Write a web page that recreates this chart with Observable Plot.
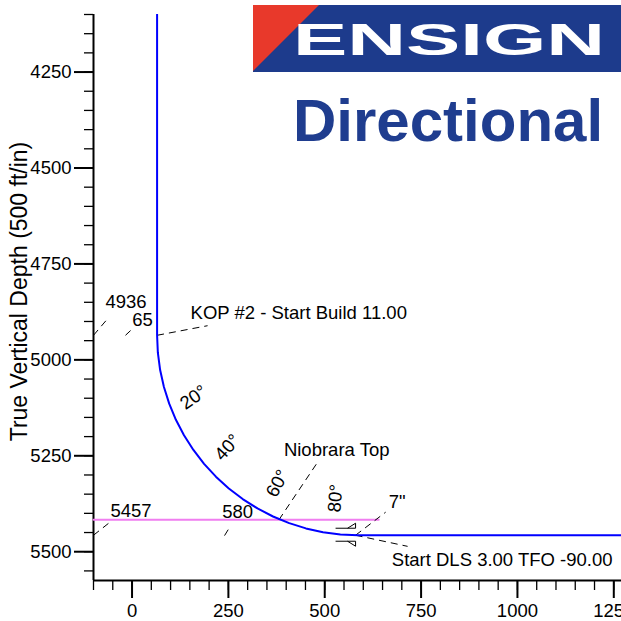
<!DOCTYPE html>
<html><head><meta charset="utf-8">
<script src="https://cdn.jsdelivr.net/npm/d3@7"></script>
<script src="https://cdn.jsdelivr.net/npm/@observablehq/plot@0.6"></script>
<style>body{margin:0;background:#fff}#chart{width:621px;height:621px;overflow:hidden}</style>
</head><body><div id="chart"></div>
<script>
// ---- scales / ticks ----
const xDomain = [-100, 1270];
const yDomain = [4100, 5575];
const xTicksMajor = [0, 250, 500, 750, 1000, 1250];
const yTicksMajor = [4250, 4500, 4750, 5000, 5250, 5500];
const xTicksMinor = d3.range(-100, 1271, 50);
const yTicksMinor = d3.range(4100, 5576, 50);
const yAxisLabel = "True Vertical Depth (500 ft/in)";

// ---- well path (vertical section, TVD) ----
const pathVS  = [65, 65, 66.98, 72.92, 82.75, 96.42, 113.81, 134.8, 159.22, 186.89, 217.6, 251.11, 287.16, 325.5, 365.82, 407.81, 451.15, 495.53, 540.59, 586, 1300];
const pathTVD = [4100, 4936, 4981.41, 5026.47, 5070.84, 5114.19, 5156.19, 5196.5, 5234.83, 5270.89, 5304.4, 5335.11, 5362.78, 5387.2, 5408.19, 5425.58, 5439.25, 5449.09, 5455.02, 5457, 5457];

// ---- formation top ----
const formationName = "Niobrara Top";
const formationTVD = 5417;
const formationVS = [-100, 640];

// ---- casing point ----
const casingVS = 580;
const casingTVD = 5457;

// ---- inclination labels ----
const incText = ["20°", "40°", "60°", "80°"];
const incVS   = [159.5, 247.7, 377.4, 527.9];
const incTVD  = [5098, 5228, 5322, 5361];
const incRot  = [-35, -48, -62, -85];

// ---- annotation labels ----
const labelText = ["4936", "65", "KOP #2 - Start Build 11.00", "5457", "580", formationName, "7\"", "Start DLS 3.00 TFO -90.00"];
const labelVS   = [-69, 0.4, 152, -56, 234, 394, 666, 674];
const labelTVD  = [4849, 4897, 4877, 5393, 5397, 5234, 5371, 5521];

// ---- leader lines ----
const leadX1 = [-100, -17, 65, -100, 240, 381, 580, 580];
const leadY1 = [4936, 4936, 4936, 5457, 5458, 5417, 5457, 5457];
const leadX2 = [-61, -1, 196, -61, 251, 480, 658, 715];
const leadY2 = [4890, 4921, 4911, 5426, 5440, 5269, 5397, 5486];

const path = pathVS.map((x, i) => ({x, y: pathTVD[i]}));
const incs = incText.map((t, i) => ({t, x: incVS[i], y: incTVD[i], r: incRot[i]}));
const labels = labelText.map((t, i) => ({t, x: labelVS[i], y: labelTVD[i]}));
const leaders = leadX1.map((x1, i) => ({x1, y1: leadY1[i], x2: leadX2[i], y2: leadY2[i]}));

const casingSymbol = {
  draw(ctx) {
    ctx.moveTo(-20, -7); ctx.lineTo(0, -7); ctx.lineTo(0, -12); ctx.lineTo(-8, -7);
    ctx.moveTo(-20, 6); ctx.lineTo(0, 6); ctx.lineTo(0, 11); ctx.lineTo(-8, 6);
  }
};

const FS = 18.5;
const plot = Plot.plot({
  width: 621, height: 621,
  marginLeft: 93, marginRight: 0, marginTop: 14, marginBottom: 41,
  style: {fontFamily: "'Liberation Sans', Arial, sans-serif", fontSize: FS + "px", color: "black", background: "white", overflow: "hidden"},
  x: {domain: xDomain},
  y: {domain: yDomain, reverse: true},
  marks: [
    Plot.axisX({ticks: xTicksMinor, tickSize: 10, strokeWidth: 1.3, text: null}),
    Plot.axisX({ticks: xTicksMajor, tickSize: 18, tickPadding: 5, strokeWidth: 2, fontSize: FS, tickFormat: d => String(d), label: null}),
    Plot.axisY({ticks: yTicksMinor, tickSize: 9, strokeWidth: 1.3, text: null}),
    Plot.axisY({ticks: yTicksMajor, tickSize: 19, tickPadding: 3, strokeWidth: 2, fontSize: FS, tickFormat: d => String(d), label: null}),
    Plot.ruleX([xDomain[0]], {strokeWidth: 2}),
    Plot.ruleY([yDomain[1]], {strokeWidth: 2}),
    Plot.text([yAxisLabel], {frameAnchor: "left", text: d => d, rotate: -90, dx: -74, dy: -6, fontSize: 23, textAnchor: "middle"}),
    Plot.lineY(formationVS, {x: d => d, y: () => formationTVD, stroke: "#f07ef0", strokeWidth: 2}),
    Plot.link(leaders, {x1: "x1", y1: "y1", x2: "x2", y2: "y2", stroke: "black", strokeWidth: 1, strokeDasharray: "7,5", clip: true}),
    Plot.line(path, {x: "x", y: "y", stroke: "#0000ff", strokeWidth: 2, clip: true}),
    Plot.dot([{x: casingVS, y: casingTVD}], {x: "x", y: "y", symbol: casingSymbol, stroke: "black", fill: "none", strokeWidth: 1}),
    Plot.text(incs, {x: "x", y: "y", text: "t", rotate: "r", fontSize: FS, textAnchor: "middle", lineAnchor: "middle"}),
    Plot.text(labels, {x: "x", y: "y", text: "t", fontSize: FS, textAnchor: "start", lineAnchor: "middle"})
  ]
});

// ---- logo ----
const svg = d3.select(plot);
const logo = svg.append("g").attr("text-anchor", "start");
logo.append("rect").attr("x", 253).attr("y", 5).attr("width", 368).attr("height", 67).attr("fill", "#1d3b8c");
logo.append("path").attr("d", "M253,5L319,5L253,71Z").attr("fill", "#e8392b");
logo.append("text").text("ENSIGN").attr("x", 293).attr("y", 55).attr("text-anchor", "start")
  .attr("font-family", "'Liberation Sans', Arial, sans-serif").attr("font-weight", "900").attr("font-size", 45)
  .attr("fill", "white").attr("textLength", 312).attr("lengthAdjust", "spacingAndGlyphs");
logo.append("text").text("Directional").attr("x", 293).attr("y", 141).attr("text-anchor", "start")
  .attr("font-family", "'Liberation Sans', Arial, sans-serif").attr("font-weight", "bold").attr("font-size", 60)
  .attr("fill", "#1f3d8f");

document.getElementById("chart").append(plot);
</script>
</body></html>
